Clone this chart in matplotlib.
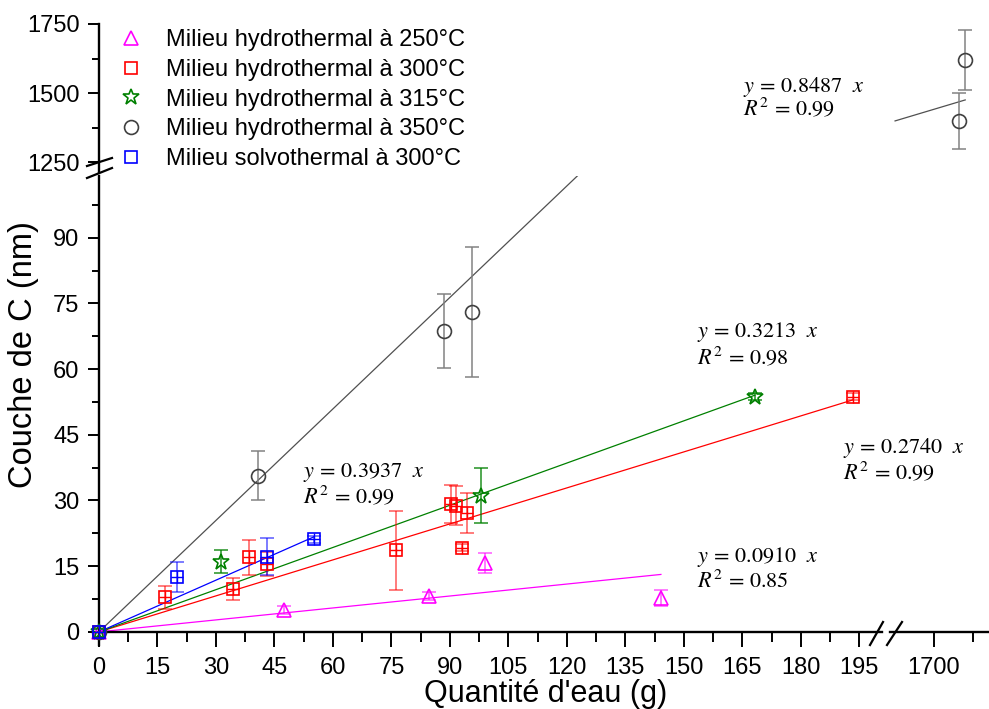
import matplotlib.pyplot as plt
from matplotlib.lines import Line2D
from matplotlib.ticker import MultipleLocator, FixedLocator

plt.rcParams['font.family'] = ['Liberation Sans', 'DejaVu Sans']
plt.rcParams['mathtext.fontset'] = 'stix'

# --- data ---
# hydrothermal 250 °C
h250_x = [0, 47.5, 84.7, 99.0, 144.1]
h250_y = [0, 5.0, 8.2, 15.7, 7.7]
h250_err = [0, 1.0, 1.0, 2.2, 1.8]

# hydrothermal 300 °C
h300_x = [0, 16.9, 34.4, 38.5, 43.2, 76.1, 90.3, 91.5, 94.5, 93.2, 193.3]
h300_y = [0, 7.9, 9.7, 17.0, 15.5, 18.6, 29.2, 28.8, 27.1, 19.2, 53.7]
h300_err = [0, 2.6, 2.5, 4.0, 2.8, 9.0, 4.4, 4.4, 4.6, 0.8, 0.8]

# hydrothermal 315 °C
h315_x = [0, 31.3, 97.9, 168.2]
h315_y = [0, 16.0, 31.1, 53.7]
h315_err = [0, 2.6, 6.3, 0.8]

# hydrothermal 350 °C
h350_x = [0, 40.7, 88.5, 95.6, 1706.4, 1708.0]
h350_y = [0, 35.7, 68.7, 73.1, 1399, 1620]
h350_err = [0, 5.5, 8.5, 14.9, 101, 110]

# solvothermal 300 °C
s300_x = [0, 19.9, 43.2, 55.2]
s300_y = [0, 12.5, 17.2, 21.2]
s300_err = [0, 3.4, 4.3, 0.8]

labels = ['Milieu hydrothermal à 250°C', 'Milieu hydrothermal à 300°C',
          'Milieu hydrothermal à 315°C', 'Milieu hydrothermal à 350°C',
          'Milieu solvothermal à 300°C']

# linear fits y = a x
slopes = [0.0910, 0.2740, 0.3213, 0.8487, 0.3937]
r2 = [0.85, 0.99, 0.98, 0.99, 0.99]
# fit segment as drawn in the upper right panel
h350_top_fit_x = [1690, 1708]
h350_top_fit_y = [1399, 1475]

# --- figure ---
W, H = 989, 709
fig = plt.figure(figsize=(W / 100, H / 100), dpi=100)


def box(x0, x1, ytop, ybot):
    return [x0 / W, 1 - ybot / H, (x1 - x0) / W, (ybot - ytop) / H]


ax_bl = fig.add_axes(box(99, 882, 176, 645))
ax_br = fig.add_axes(box(890, 989, 176, 645))
ax_tl = fig.add_axes(box(99, 882, 24, 172))
ax_tr = fig.add_axes(box(890, 989, 24, 172))

ax_bl.set_xlim(0, 200.8)
ax_bl.set_ylim(-3.0, 104.1)
ax_br.set_xlim(1688.7, 1714.1)
ax_br.set_ylim(-3.0, 104.1)
ax_tl.set_xlim(0, 200.8)
ax_tl.set_ylim(1214, 1750)
ax_tr.set_xlim(1688.7, 1714.1)
ax_tr.set_ylim(1214, 1750)

series = [
    (h250_x, h250_y, h250_err, '^', '#FF00FF', (1, 0, 1, 0.6), 10),
    (h300_x, h300_y, h300_err, 's', '#FF0000', (1, 0, 0, 0.6), 9),
    (h315_x, h315_y, h315_err, '*', '#008000', (0, 0.5, 0, 0.8), 12),
    (h350_x, h350_y, h350_err, 'o', '#404040', (0.5, 0.5, 0.5, 0.9), 10),
    (s300_x, s300_y, s300_err, 's', '#0000FF', (0, 0, 1, 0.6), 9),
]


def draw(ax, xs, ys, es, m, c, ec, ms):
    x0, x1 = ax.get_xlim()
    y0, y1 = ax.get_ylim()
    idx = [i for i in range(len(xs)) if x0 <= xs[i] <= x1 and y0 <= ys[i] <= y1]
    if not idx:
        return
    px = [xs[i] for i in idx]
    py = [ys[i] for i in idx]
    pe = [es[i] for i in idx]
    ax.errorbar(px, py, yerr=pe, fmt='none', ecolor=ec, elinewidth=1.2,
                capsize=5, capthick=1.2, clip_on=False, zorder=3)
    ax.plot(px, py, ls='none', marker=m, ms=ms, mfc='none', mec=c, mew=1.2,
            clip_on=False, zorder=4)
    if m == 's':
        ax.plot(px, py, ls='none', marker='+', ms=ms, mec=c, mew=1.0,
                clip_on=False, zorder=4)


for ax in (ax_bl, ax_br, ax_tl, ax_tr):
    for s in series:
        draw(ax, *s)

# fit lines in the main panel
fit_colors = ['#FF00FF', '#FF0000', '#008000', '#505050', '#0000FF']
for (xs, ys, es, m, c, ec, ms), a, fc in zip(series, slopes, fit_colors):
    xe = max(x for x in xs if x < 300)
    if fc == '#505050':
        xe = ax_bl.get_xlim()[1]
    ax_bl.plot([0, xe], [0, a * xe], color=fc, lw=0.9, zorder=2)
ax_tr.plot(h350_top_fit_x, h350_top_fit_y, color='#505050', lw=0.9, clip_on=False)

# axes styling
for ax in (ax_bl, ax_br, ax_tl, ax_tr):
    for sp in ax.spines.values():
        sp.set_visible(False)
        sp.set_linewidth(1.7)
    ax.patch.set_visible(False)
    ax.tick_params(which='major', direction='out', length=8, width=1.4,
                   labelsize=17)
    ax.tick_params(which='minor', direction='out', length=5, width=1.4)

ax_bl.spines['left'].set_visible(True)
ax_bl.spines['bottom'].set_visible(True)
ax_bl.spines['bottom'].set_position(('data', 0))
ax_bl.xaxis.set_major_locator(MultipleLocator(15))
ax_bl.xaxis.set_minor_locator(MultipleLocator(7.5))
ax_bl.yaxis.set_major_locator(MultipleLocator(15))
ax_bl.yaxis.set_minor_locator(MultipleLocator(7.5))
ax_bl.tick_params(axis='x', which='major', length=11, pad=7)
ax_bl.tick_params(axis='x', which='minor', length=7)
ax_bl.tick_params(axis='y', pad=6)

ax_br.spines['bottom'].set_visible(True)
ax_br.spines['bottom'].set_position(('data', 0))
ax_br.xaxis.set_major_locator(FixedLocator([1700]))
ax_br.xaxis.set_minor_locator(FixedLocator([1710]))
ax_br.tick_params(axis='x', which='major', length=11, pad=7)
ax_br.tick_params(axis='x', which='minor', length=7)
ax_br.set_yticks([])

ax_tl.spines['left'].set_visible(True)
ax_tl.yaxis.set_major_locator(MultipleLocator(250))
ax_tl.yaxis.set_minor_locator(MultipleLocator(125))
ax_tl.set_xticks([])
ax_tl.tick_params(axis='y', pad=6)

ax_tr.set_xticks([])
ax_tr.set_yticks([])

# break marks
for (x0, y0, x1, y1) in [(870, 645, 883, 622), (887, 645, 902, 622),
                         (87, 166, 112, 158), (87, 178, 112, 168)]:
    fig.add_artist(Line2D([x0 / W, x1 / W], [1 - y0 / H, 1 - y1 / H],
                          transform=fig.transFigure, color='k', lw=1.6))

# axis titles
fig.text(546 / W, 1 - 694 / H, "Quantité d'eau (g)", ha='center', va='center',
         fontsize=22)
fig.text(24 / W, 1 - 355 / H, 'Couche de C (nm)', ha='center', va='center',
         rotation=90, fontsize=23.5)

# equations
eq_pos = [(697, 557, 582), (843, 448, 473), (697, 332, 358),
          (743, 87, 109), (303, 473, 497)]
for a, r, (ex, ey1, ey2) in zip(slopes, r2, eq_pos):
    fig.text(ex / W, 1 - ey1 / H, r'$y\,=\,%.4f\ \ x$' % a, ha='left',
             va='center', fontsize=16)
    fig.text(ex / W, 1 - ey2 / H, r'$R^2\,=\,%.2f$' % r, ha='left',
             va='center', fontsize=16)

# legend
handles = [Line2D([], [], ls='none', marker=m, ms=ms, mfc='none', mec=c, mew=1.2)
           for (xs, ys, es, m, c, ec, ms) in series]
fig.legend(handles, labels, loc='upper left', bbox_to_anchor=(119 / W, 1 - 29 / H),
           frameon=False, fontsize=17, handlelength=1.0, handletextpad=1.0,
           labelspacing=0.33, borderpad=0, borderaxespad=0)

fig.savefig('out.png', dpi=100)
